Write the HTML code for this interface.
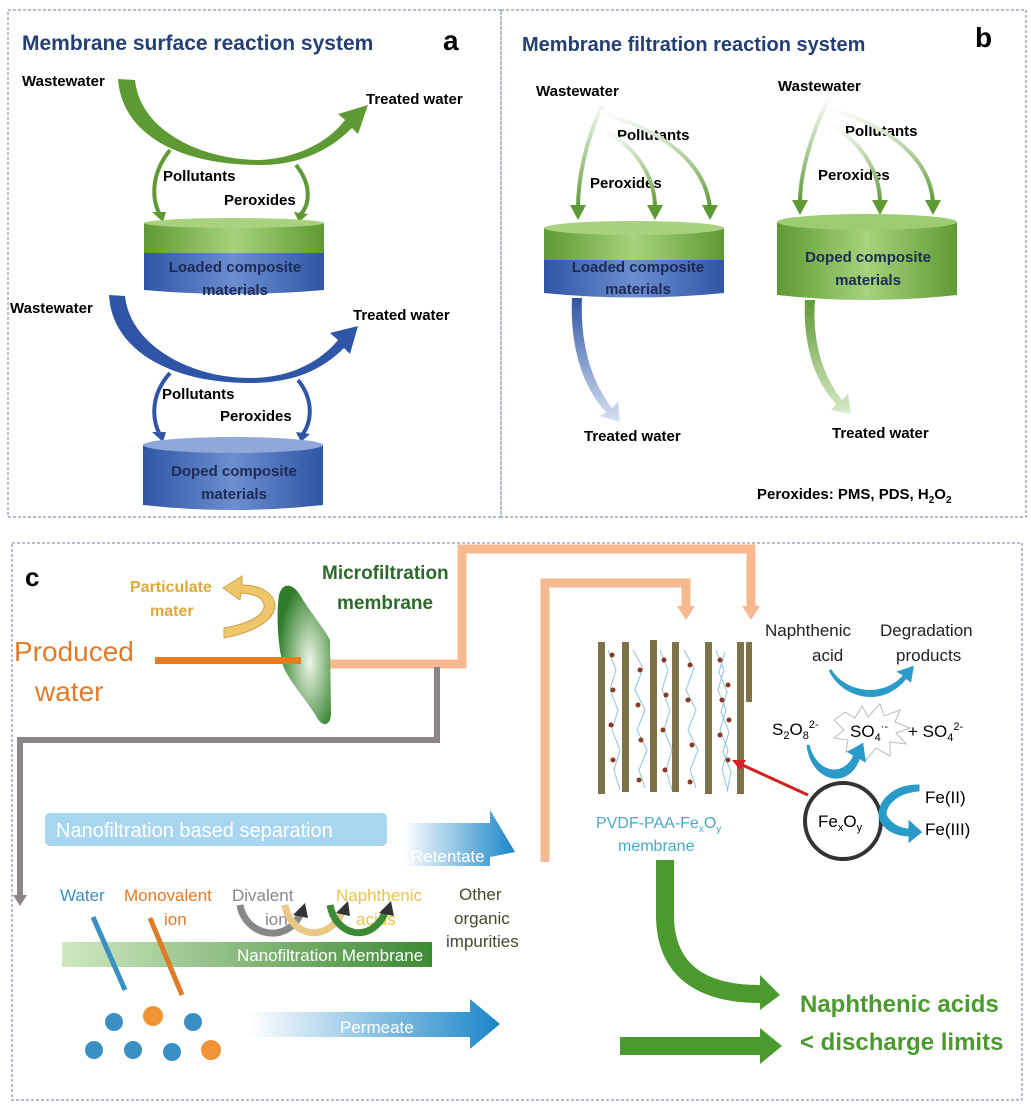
<!DOCTYPE html>
<html><head><meta charset="utf-8"><style>
html,body{margin:0;padding:0;background:#fff;}
svg{display:block;font-family:"Liberation Sans",sans-serif;}
.b{font-weight:bold;}
</style></head><body>
<svg width="1031" height="1111" viewBox="0 0 1031 1111" xmlns="http://www.w3.org/2000/svg">
<defs>
<linearGradient id="blu" x1="0" x2="1"><stop offset="0" stop-color="#2f56a6"/><stop offset=".5" stop-color="#6d8fd0"/><stop offset="1" stop-color="#2f56a6"/></linearGradient>
<linearGradient id="grn" x1="0" x2="1"><stop offset="0" stop-color="#5e9a34"/><stop offset=".5" stop-color="#a6d37c"/><stop offset="1" stop-color="#5e9a34"/></linearGradient>
<linearGradient id="fadeG" x1="0" y1="0" x2="0" y2="1"><stop offset="0" stop-color="#fff"/><stop offset="1" stop-color="#5e9a34"/></linearGradient>
<linearGradient id="fadeB" x1="0" y1="0" x2="0" y2="1"><stop offset="0" stop-color="#2f56a6"/><stop offset="1" stop-color="#d6e0f2"/></linearGradient>
<linearGradient id="fadeG2" x1="0" y1="0" x2="0" y2="1"><stop offset="0" stop-color="#5e9a34"/><stop offset="1" stop-color="#d8ebc8"/></linearGradient>
<linearGradient id="rt" x1="0" x2="1"><stop offset="0" stop-color="#fff"/><stop offset="1" stop-color="#1a86c8"/></linearGradient>
<linearGradient id="nfm" x1="0" x2="1"><stop offset="0" stop-color="#cfe8c0"/><stop offset="1" stop-color="#3d8a34"/></linearGradient>
<radialGradient id="mf" cx=".6" cy=".55" r=".6"><stop offset="0" stop-color="#eef7e6"/><stop offset="1" stop-color="#2f7d2a"/></radialGradient>
</defs>
<g fill="none" stroke="#6f8194" stroke-dasharray="3,2" stroke-width="1">
<rect x="8" y="10" width="493" height="507"/>
<rect x="501" y="10" width="525" height="507"/>
<rect x="12" y="543" width="1010" height="557"/>
</g>

<!-- Panel a -->
<text x="22" y="50" class="b" font-size="21" fill="#243f73">Membrane surface reaction system</text>
<text x="443" y="50" class="b" font-size="28" fill="#000">a</text>
<text x="22" y="86" class="b" font-size="15">Wastewater</text>
<text x="366" y="104" class="b" font-size="15">Treated water</text>
<path d="M118,79 L135,80 C140,130 200,160 260,160 C300,158 330,140 345,120 L338,114 L368,105 L358,134 L352,128 C330,150 300,165 260,165 C180,165 122,135 118,79Z" fill="#5e9a34"/>
<g fill="none" stroke="#5e9a34" stroke-width="4">
<path d="M170,150 C150,175 152,200 160,215"/><path d="M296,165 C312,185 310,205 300,215"/>
</g>
<path d="M152,212 L166,212 L163,222Z M294,212 L308,214 L299,222Z" fill="#5e9a34"/>
<text x="163" y="181" class="b" font-size="15">Pollutants</text>
<text x="224" y="205" class="b" font-size="15">Peroxides</text>
<rect x="144" y="223" width="180" height="30" fill="url(#grn)"/>
<ellipse cx="234" cy="223" rx="90" ry="5" fill="#a8d27e"/>
<path d="M144,253 L324,253 L324,290 Q234,298 144,290Z" fill="url(#blu)"/>
<text x="235" y="272" class="b" font-size="15" fill="#1b2b55" text-anchor="middle">Loaded composite</text>
<text x="235" y="295" class="b" font-size="15" fill="#1b2b55" text-anchor="middle">materials</text>

<text x="10" y="313" class="b" font-size="15">Wastewater</text>
<text x="353" y="320" class="b" font-size="15">Treated water</text>
<path d="M109,295 L125,296 C130,345 190,378 250,378 C290,378 320,362 338,340 L330,333 L358,326 L350,354 L344,348 C320,372 290,383 250,383 C170,383 112,350 109,295Z" fill="#2f56a6"/>
<g fill="none" stroke="#2f56a6" stroke-width="4">
<path d="M170,373 C150,395 152,420 160,435"/><path d="M298,380 C314,400 312,422 302,435"/>
</g>
<path d="M152,432 L166,432 L163,442Z M296,432 L310,434 L301,442Z" fill="#2f56a6"/>
<text x="162" y="399" class="b" font-size="15">Pollutants</text>
<text x="220" y="421" class="b" font-size="15">Peroxides</text>
<path d="M143,445 L323,445 L323,505 Q233,515 143,505Z" fill="url(#blu)"/>
<ellipse cx="233" cy="445" rx="90" ry="8" fill="#8ea9d9"/>
<text x="234" y="476" class="b" font-size="15" fill="#1b2b55" text-anchor="middle">Doped composite</text>
<text x="234" y="499" class="b" font-size="15" fill="#1b2b55" text-anchor="middle">materials</text>

<!-- Panel b -->
<text x="522" y="51" class="b" font-size="20" fill="#243f73">Membrane filtration reaction system</text>
<text x="975" y="47" class="b" font-size="28">b</text>
<text x="536" y="96" class="b" font-size="15">Wastewater</text>
<text x="617" y="140" class="b" font-size="15">Pollutants</text>
<text x="590" y="188" class="b" font-size="15">Peroxides</text>
<g fill="none" stroke="url(#fadeG)" stroke-width="4">
<path d="M605,100 C585,140 578,180 578,208"/>
<path d="M605,130 C640,150 655,180 655,208"/>
<path d="M600,112 C660,130 705,160 710,208"/>
</g>
<path d="M570,205 L586,205 L578,220Z M647,205 L663,205 L655,220Z M702,205 L718,205 L710,220Z" fill="#5e9a34"/>
<rect x="544" y="228" width="180" height="32" fill="url(#grn)"/>
<ellipse cx="634" cy="228" rx="90" ry="7" fill="#a8d27e"/>
<path d="M544,260 L724,260 L724,293 Q634,302 544,293Z" fill="url(#blu)"/>
<text x="638" y="272" class="b" font-size="15" fill="#1b2b55" text-anchor="middle">Loaded composite</text>
<text x="638" y="294" class="b" font-size="15" fill="#1b2b55" text-anchor="middle">materials</text>
<path d="M572,298 L582,298 C580,340 590,380 612,408 L618,402 L620,422 L600,416 L606,412 C580,385 570,340 572,298Z" fill="url(#fadeB)"/>
<text x="584" y="441" class="b" font-size="15">Treated water</text>

<text x="778" y="91" class="b" font-size="15">Wastewater</text>
<text x="845" y="136" class="b" font-size="15">Pollutants</text>
<text x="818" y="180" class="b" font-size="15">Peroxides</text>
<g fill="none" stroke="url(#fadeG)" stroke-width="4">
<path d="M830,96 C810,135 800,175 800,203"/>
<path d="M832,125 C865,145 880,175 880,203"/>
<path d="M828,108 C885,125 930,155 933,203"/>
</g>
<path d="M792,200 L808,200 L800,215Z M872,200 L888,200 L880,215Z M925,200 L941,200 L933,215Z" fill="#5e9a34"/>
<path d="M777,222 L957,222 L957,295 Q867,305 777,295Z" fill="url(#grn)"/>
<ellipse cx="867" cy="222" rx="90" ry="8" fill="#9ccc72"/>
<text x="868" y="262" class="b" font-size="15" fill="#1b2b55" text-anchor="middle">Doped composite</text>
<text x="868" y="285" class="b" font-size="15" fill="#1b2b55" text-anchor="middle">materials</text>
<path d="M805,300 L815,300 C812,340 822,375 842,400 L848,394 L851,414 L831,410 L836,404 C812,378 803,340 805,300Z" fill="url(#fadeG2)"/>
<text x="832" y="438" class="b" font-size="15">Treated water</text>
<text x="757" y="499" class="b" font-size="15">Peroxides:  PMS, PDS, H<tspan font-size="10" dy="4">2</tspan><tspan dy="-4">O</tspan><tspan font-size="10" dy="4">2</tspan></text>

<!-- Panel c -->
<text x="25" y="586" class="b" font-size="26">c</text>
<text x="322" y="579" class="b" font-size="19" fill="#2d6a2a">Microfiltration</text>
<text x="337" y="609" class="b" font-size="19" fill="#2d6a2a">membrane</text>
<text x="130" y="592" class="b" font-size="16" fill="#e0a838">Particulate</text>
<text x="150" y="616" class="b" font-size="16" fill="#e0a838">mater</text>
<path d="M224,638 C255,632 275,620 275,605 C273,592 260,585 242,585 L242,576 L223,588 L240,600 L241,593 C255,594 265,598 264,607 C262,618 245,624 224,628Z" fill="#f0c66a" stroke="#c9a24a" stroke-width="1"/>
<text x="14" y="661" font-size="28" fill="#e07b2a">Produced</text>
<text x="35" y="701" font-size="28" fill="#e07b2a">water</text>
<g fill="none" stroke="#f7b98f" stroke-width="9">
<path d="M330,664 L462,664 L462,549 L751,549 L751,608"/>
<path d="M545,862 L545,583 L686,583 L686,608"/>
</g>
<path d="M742,606 L760,606 L751,620Z M677,606 L695,606 L686,620Z" fill="#f7b98f"/>
<path d="M279,595 C282,583 292,582 300,595 C310,612 322,625 330,640 L331,715 C330,726 322,728 316,716 C305,698 292,685 284,668 C278,650 276,615 279,595Z" fill="url(#mf)"/>
<rect x="155" y="657" width="146" height="7" fill="#e87d20"/>
<g fill="none" stroke="#8a8686" stroke-width="6">
<path d="M437,667 L437,740 L20,740 L20,898"/>
</g>
<path d="M13,895 L27,895 L20,906Z" fill="#8a8686"/>
<rect x="45" y="813" width="342" height="33" rx="5" fill="#a8d5ef"/>
<text x="56" y="837" font-size="20" fill="#fff">Nanofiltration based separation</text>
<path d="M403,823 L490,823 L490,810 L515,852 L490,857 L490,866 L403,866Z" fill="url(#rt)"/>
<text x="411" y="862" font-size="17" fill="#fff">Retentate</text>
<text x="60" y="901" font-size="17" fill="#3a8fc4">Water</text>
<text x="124" y="901" font-size="17" fill="#e07b2a">Monovalent</text>
<text x="164" y="925" font-size="17" fill="#e07b2a">ion</text>
<text x="232" y="901" font-size="17" fill="#888">Divalent</text>
<text x="265" y="925" font-size="17" fill="#888">ion</text>
<text x="336" y="901" font-size="17" fill="#e8c44e">Naphthenic</text>
<text x="356" y="925" font-size="17" fill="#e8c44e">acids</text>
<text x="459" y="900" font-size="17" fill="#3f4a2e">Other</text>
<text x="454" y="924" font-size="17" fill="#3f4a2e">organic</text>
<text x="446" y="947" font-size="17" fill="#3f4a2e">impurities</text>
<g fill="none" stroke-width="7">
<path d="M240,905 C245,935 285,945 300,915" stroke="#888"/>
<path d="M285,905 C290,935 325,945 342,913" stroke="#e8c882"/>
<path d="M330,905 C335,935 370,945 385,913" stroke="#3d8a34"/>
</g>
<path d="M293,915 L305,903 L308,918Z M336,913 L348,901 L350,916Z M379,913 L391,901 L394,916Z" fill="#333"/>
<rect x="62" y="942" width="370" height="25" fill="url(#nfm)"/>
<text x="237" y="961" font-size="17" fill="#fff">Nanofiltration Membrane</text>
<g stroke-width="5">
<line x1="93" y1="917" x2="125" y2="990" stroke="#3a8fc4"/>
<line x1="150" y1="918" x2="182" y2="995" stroke="#e07b2a"/>
</g>
<g fill="#3a8fc4">
<circle cx="114" cy="1022" r="9"/><circle cx="193" cy="1022" r="9"/><circle cx="94" cy="1050" r="9"/><circle cx="133" cy="1050" r="9"/><circle cx="172" cy="1052" r="9"/>
</g>
<g fill="#f09436"><circle cx="153" cy="1016" r="10"/><circle cx="211" cy="1050" r="10"/></g>
<path d="M248,1012 L470,1012 L470,999 L500,1024 L470,1049 L470,1037 L248,1037Z" fill="url(#rt)"/>
<text x="340" y="1033" font-size="17" fill="#fff">Permeate</text>

<!-- membrane fibers -->
<g fill="#7d7148">
<rect x="598" y="642" width="7" height="152"/><rect x="622" y="642" width="7" height="150"/><rect x="650" y="640" width="7" height="152"/><rect x="672" y="642" width="7" height="150"/><rect x="705" y="642" width="7" height="152"/><rect x="737" y="642" width="7" height="152"/><rect x="746" y="642" width="6" height="60"/>
</g>
<g fill="none" stroke="#8cc3e0" stroke-width="1">
<path d="M608,650 l8,20 -6,20 8,20 -6,20 8,20 -6,20 6,20"/><path d="M633,650 l10,18 -8,22 10,20 -8,20 10,20 -8,20 6,18"/>
<path d="M660,650 l8,20 -6,20 8,20 -6,20 8,20 -6,20 6,20"/><path d="M684,650 l10,18 -8,22 10,20 -8,20 10,20 -8,20 6,18"/>
<path d="M716,650 l8,20 -6,20 8,20 -6,20 8,20 -6,20 6,20"/><path d="M725,652 l-6,20 8,20 -6,20 8,20 -6,20 8,20 -4,20"/>
</g>
<g fill="#8a3a22">
<circle cx="612" cy="655" r="2.5"/><circle cx="613" cy="690" r="2.5"/><circle cx="611" cy="725" r="2.5"/><circle cx="613" cy="760" r="2.5"/><circle cx="640" cy="670" r="2.5"/><circle cx="638" cy="705" r="2.5"/><circle cx="641" cy="740" r="2.5"/><circle cx="639" cy="780" r="2.5"/><circle cx="664" cy="660" r="2.5"/><circle cx="666" cy="695" r="2.5"/><circle cx="663" cy="730" r="2.5"/><circle cx="665" cy="770" r="2.5"/><circle cx="690" cy="665" r="2.5"/><circle cx="688" cy="700" r="2.5"/><circle cx="692" cy="745" r="2.5"/><circle cx="690" cy="782" r="2.5"/><circle cx="720" cy="660" r="2.5"/><circle cx="722" cy="700" r="2.5"/><circle cx="720" cy="735" r="2.5"/><circle cx="728" cy="685" r="2.5"/><circle cx="729" cy="720" r="2.5"/><circle cx="728" cy="760" r="2.5"/>
</g>
<text x="596" y="828" font-size="16" fill="#4aa8c8">PVDF-PAA-Fe<tspan font-size="10" dy="4">x</tspan><tspan dy="-4">O</tspan><tspan font-size="10" dy="4">y</tspan></text>
<text x="618" y="851" font-size="16" fill="#4aa8c8">membrane</text>
<text x="765" y="636" font-size="17" fill="#222">Naphthenic</text>
<text x="812" y="661" font-size="17" fill="#222">acid</text>
<text x="880" y="636" font-size="17" fill="#222">Degradation</text>
<text x="896" y="661" font-size="17" fill="#222">products</text>
<path d="M830,670 C845,695 885,700 905,675 L900,672 L912,668 L910,680 L906,677 C885,705 845,700 830,670Z" fill="#2a9ac8" stroke="#2a9ac8" stroke-width="3"/>
<path d="M845,712 L855,718 L862,706 L868,717 L880,704 L884,716 L900,710 L895,722 L910,728 L896,733 L906,744 L890,742 L890,756 L876,748 L866,760 L860,746 L846,752 L848,740 L834,738 L844,730 L834,720Z" fill="#fff" stroke="#bbb" stroke-width="1"/>
<text x="772" y="735" font-size="17">S<tspan font-size="11" dy="4">2</tspan><tspan dy="-4">O</tspan><tspan font-size="11" dy="4">8</tspan><tspan font-size="11" dy="-11">2-</tspan></text>
<text x="850" y="737" font-size="17">SO<tspan font-size="11" dy="4">4</tspan><tspan font-size="11" dy="-11">·-</tspan></text>
<text x="908" y="737" font-size="17">+  SO<tspan font-size="11" dy="4">4</tspan><tspan font-size="11" dy="-11">2-</tspan></text>
<path d="M808,745 C815,775 845,780 855,755 L850,752 L862,745 L864,760 L859,757 C848,790 812,780 808,745Z" fill="#2a9ac8" stroke="#2a9ac8" stroke-width="3"/>
<circle cx="843" cy="821" r="38" fill="#fff" stroke="#333" stroke-width="4"/>
<text x="818" y="827" font-size="17">Fe<tspan font-size="11" dy="4">x</tspan><tspan dy="-4">O</tspan><tspan font-size="11" dy="4">y</tspan></text>
<path d="M918,790 C895,792 885,805 885,815 C890,825 900,830 910,830 L910,823 L920,832 L910,840 L910,835 C895,835 882,828 880,815 C880,800 895,786 918,786Z" fill="#2a9ac8" stroke="#2a9ac8" stroke-width="3"/>
<text x="925" y="803" font-size="17">Fe(II)</text>
<text x="925" y="835" font-size="17">Fe(III)</text>
<line x1="808" y1="795" x2="738" y2="763" stroke="#d42020" stroke-width="3"/>
<path d="M732,760 L746,760 L740,770Z" fill="#d42020"/>
<path d="M656,860 L674,860 L674,915 C674,960 700,985 760,985 L760,975 L780,995 L760,1010 L760,1003 C690,1003 656,970 656,915Z" fill="#4a9a2e"/>
<path d="M620,1037 L760,1037 L760,1028 L782,1046 L760,1064 L760,1055 L620,1055Z" fill="#4a9a2e"/>
<text x="800" y="1012" class="b" font-size="24" fill="#4a9a2e">Naphthenic acids</text>
<text x="800" y="1050" class="b" font-size="24" fill="#4a9a2e">&lt; discharge limits</text>
</svg>
</body></html>
